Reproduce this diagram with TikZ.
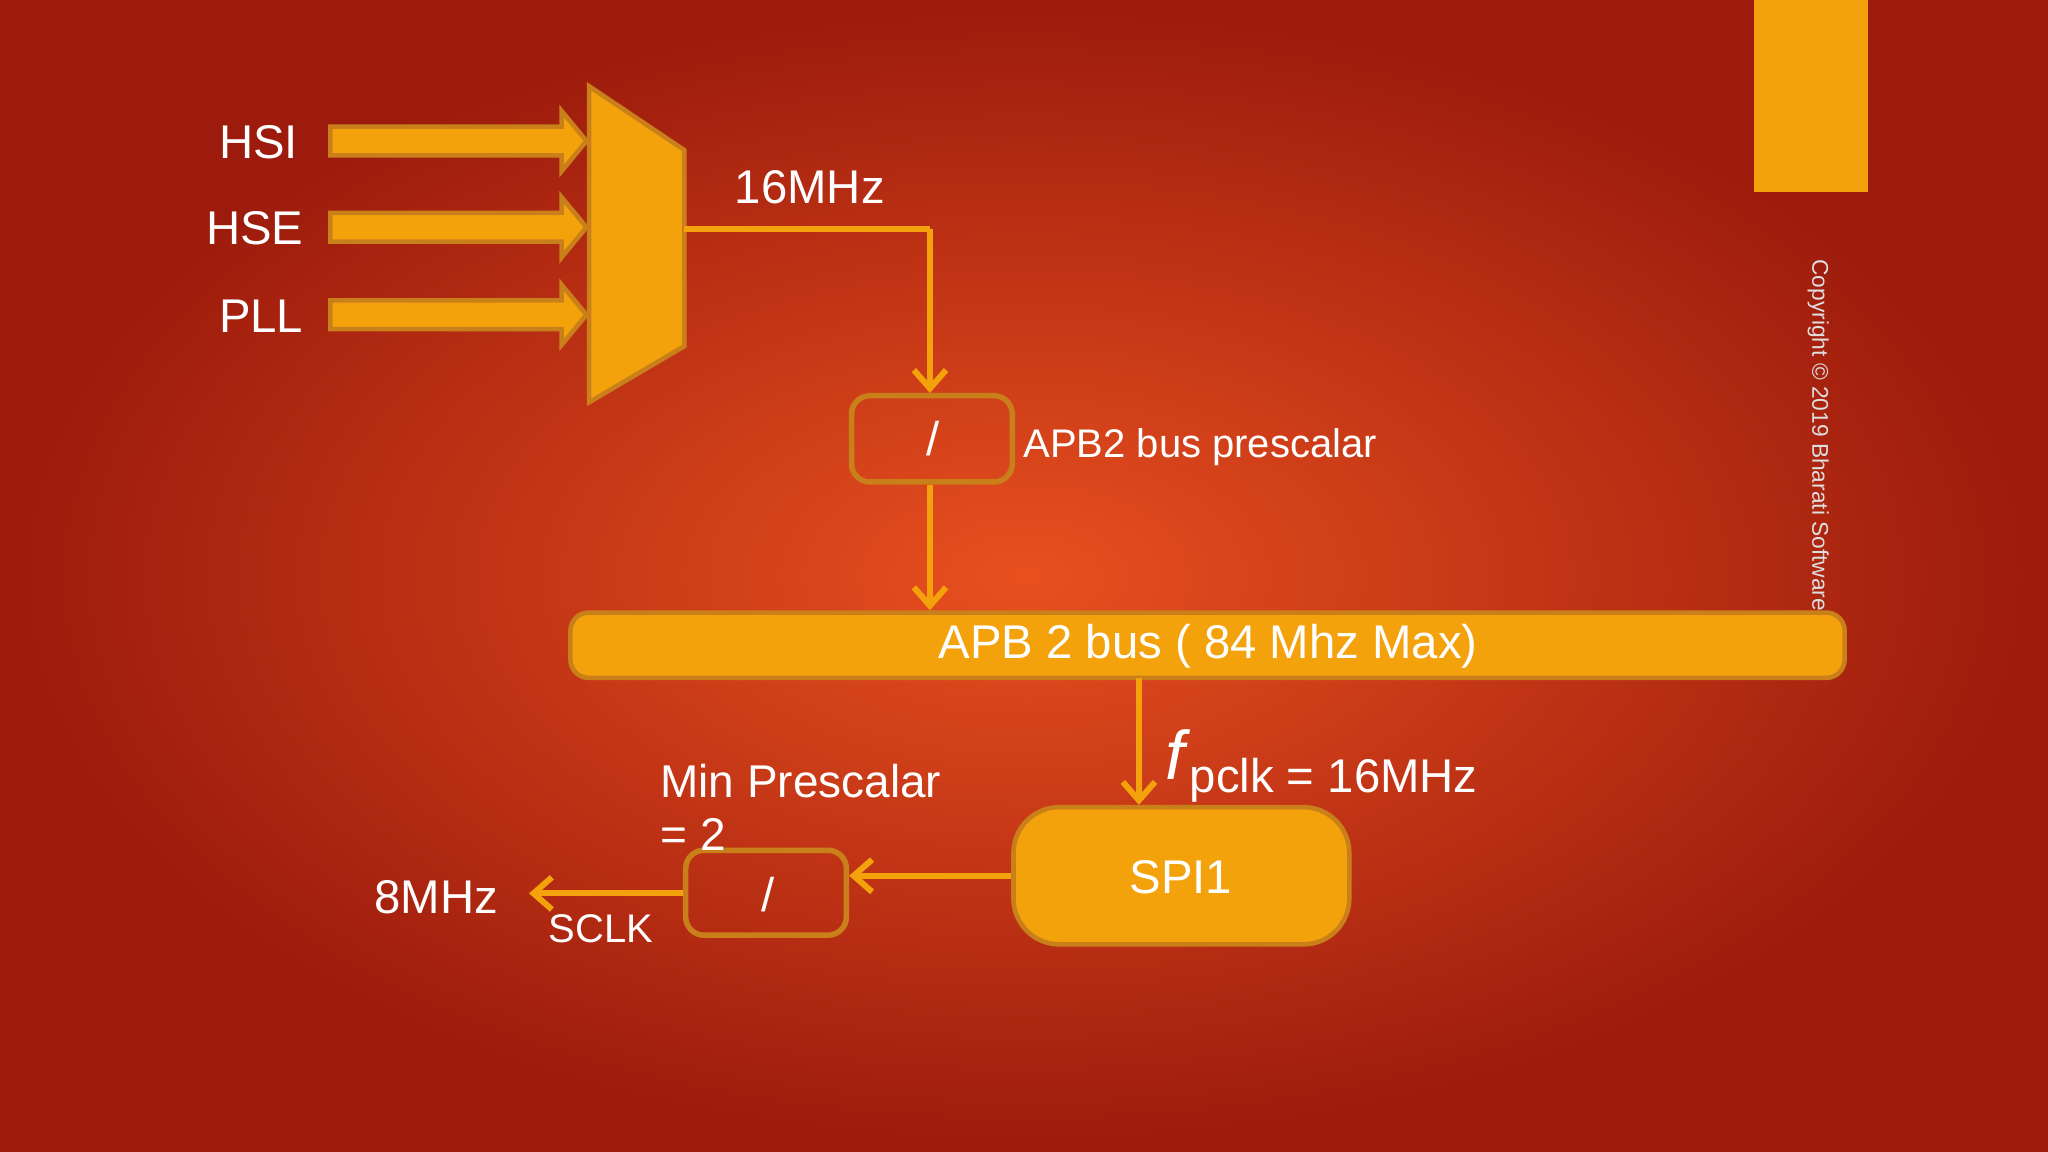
\documentclass[tikz,border=0pt]{standalone}
\usepackage{fontspec}
\setmainfont{Liberation Sans}
\usetikzlibrary{arrows.meta,shapes.arrows}
\definecolor{org}{HTML}{F4A20C}
\definecolor{orgd}{HTML}{C9801A}
\definecolor{bgin}{HTML}{E8501F}
\definecolor{bgout}{HTML}{9C1B0C}
\begin{document}
\begin{tikzpicture}[x=0.01cm,y=-0.01cm,
  lbl/.style={text=white,font=\fontsize{10.3}{12}\selectfont,inner sep=0},
  sml/.style={text=white,font=\fontsize{8.7}{10}\selectfont,inner sep=0},
  wire/.style={org,line width=1.3pt,-{Straight Barb[length=4pt,width=7pt]}},
  blk/.style={fill=org,draw=orgd,line width=1pt},
  pbox/.style={draw=orgd,line width=1.2pt,rounded corners=4pt}]
\shade[inner color=bgin,outer color=bgout] (0,0) rectangle (1568,882);
\useasboundingbox (0,0) rectangle (1568,882);
\fill[org] (1343,0) rectangle (1430,147);
% input arrows
\foreach \y/\t/\xx in {108/HSI/198,174/HSE/195,241/PLL/200}{
  \draw[blk] (253,\y-11) -- (430,\y-11) -- (430,\y-23) -- (449,\y) -- (430,\y+23) -- (430,\y+11) -- (253,\y+11) -- cycle;
  \node[lbl] (l\t) at (\xx,\y+1) {\t};
}
\draw[blk] (451,66) -- (524,115) -- (524,265) -- (451,308) -- cycle;
\coordinate (mo) at (524,175);
\coordinate (c1) at (712,175);
\node[pbox,minimum width=1.23cm,minimum height=0.66cm] (p1) at (713.5,336) {};
\node[lbl] (s1) at (714,336) {/};
\draw[org,line width=1.3pt] (mo) -- (c1);
\draw[wire] (c1) -- (p1.north -| c1);
\node[lbl] (m16) at (620,143) {16MHz};
\node[sml] [anchor=west] (apbl) at (783,342) {APB2 bus prescalar};
\node[blk,rounded corners=4pt,minimum width=9.75cm,minimum height=0.5cm,inner sep=0] (bus) at (924.5,494) {};
\node[lbl] (bust) at (925,495) {APB 2 bus ( 84 Mhz Max)};
\draw[wire] (p1.south -| c1) -- (bus.north -| c1);
\node[blk,rounded corners=10pt,minimum width=2.57cm,minimum height=1.05cm] (spi) at (904.5,670.5) {};
\node[lbl] (spit) at (904,672) {SPI1};
\coordinate (bx) at (872,519);
\draw[wire] (bx) -- (spi.north -| bx);
\node[lbl,anchor=base west] (fp) at (892,607) {\raisebox{3pt}{\fontsize{15}{17}\selectfont\itshape f}\kern1pt pclk = 16MHz};
\node[pbox,minimum width=1.23cm,minimum height=0.65cm] (p2) at (586.5,683.5) {};
\node[lbl] (s2) at (588,685) {/};
\draw[wire] (spi.west) -- (p2.east |- spi.west);
\coordinate (out) at (405,684);
\draw[wire] (p2.west |- out) -- (out);
\node[lbl] (m8) at (334,687) {8MHz};
\node[sml] (sclk) at (460,711) {SCLK};
\node[lbl,anchor=west,align=left,font=\fontsize{10}{11.5}\selectfont] (minp) at (505,618) {Min Prescalar\\= 2};
\node[rotate=-90,anchor=north west,text=white!75!gray,font=\fontsize{4.95}{6}\selectfont,inner sep=0] (copy) at (1401,198) {Copyright © 2019 Bharati Software};
\end{tikzpicture}
\end{document}
